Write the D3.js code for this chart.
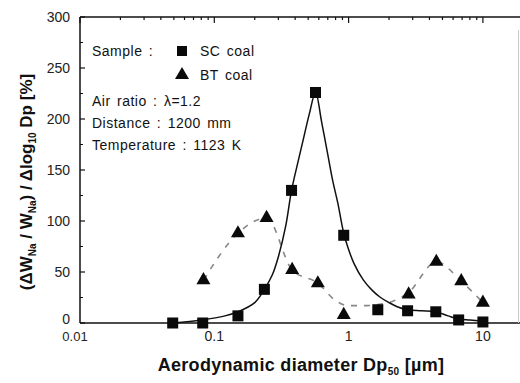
<!DOCTYPE html>
<html>
<head>
<meta charset="utf-8">
<script src="https://cdn.jsdelivr.net/npm/d3@7"></script>
<style>
  body { margin: 0; background: #fff; }
  svg { display: block; font-family: "Liberation Sans", Arial, sans-serif; }
</style>
</head>
<body>
<div id="chart"></div>
<script>
// measured points (Dp50 in um, value in %)
const scDp = [0.049, 0.082, 0.15, 0.236, 0.376, 0.567, 0.92, 1.65, 2.75, 4.46, 6.6, 10];
const scVal = [0, 0, 7, 33, 130, 226, 86, 13, 12, 11, 3, 1];
const btDp = [0.083, 0.15, 0.245, 0.38, 0.59, 0.92, 2.8, 4.5, 6.9, 10];
const btVal = [42, 88, 103, 52, 39, 8, 28, 60, 41, 20];

// fitted curves
const scFitDp = [0.049, 0.08, 0.12, 0.15, 0.2, 0.236, 0.27, 0.3, 0.34, 0.376, 0.42, 0.46, 0.51, 0.567,
  0.63, 0.7, 0.76, 0.83, 0.92, 1.0, 1.1, 1.29, 1.5, 1.73, 2.0, 2.3, 2.75, 3.5, 4.46, 5.5, 6.6, 8, 10];
const scFitVal = [0, 3, 7, 11, 20, 33, 47, 65, 95, 130, 158, 180, 205, 226,
  197, 165, 140, 118, 88, 72, 58, 42, 32, 25, 20, 16, 13, 12, 11, 7, 4, 3, 2];
const btFitDp = [0.083, 0.15, 0.245, 0.38, 0.59, 0.8, 1.0, 1.3, 1.65, 2.2, 2.8, 4.5, 6.9, 10];
const btFitVal = [42, 88, 103, 52, 39, 22, 17, 17, 18, 22, 30, 60, 41, 20];

const yTicks = [0, 50, 100, 150, 200, 250, 300];
const xTickLabels = [[0.1, '0.1'], [1, '1'], [10, '10']];

const width = 520, height = 383;
const mLeft = 80, mTop = 17, mBottom = 323;

const svg = d3.select('#chart').append('svg')
  .attr('width', width)
  .attr('height', height);

const x = d3.scaleLog().domain([0.01, 20]).range([mLeft, mLeft + 134.3 * Math.log10(2000)]);
const y = d3.scaleLinear().domain([0, 300]).range([mBottom, mTop]);

// frame
svg.append('line').attr('x1', mLeft).attr('x2', width).attr('y1', mTop).attr('y2', mTop)
  .attr('stroke', '#111').attr('stroke-width', 1.5);
svg.append('line').attr('x1', mLeft).attr('x2', mLeft).attr('y1', mTop).attr('y2', mBottom)
  .attr('stroke', '#111').attr('stroke-width', 1.5);
svg.append('line').attr('x1', mLeft).attr('x2', width).attr('y1', mBottom).attr('y2', mBottom)
  .attr('stroke', '#111').attr('stroke-width', 1.5);
svg.append('line').attr('x1', 518.5).attr('x2', 518.5).attr('y1', 30).attr('y2', mBottom)
  .attr('stroke', '#ccc').attr('stroke-width', 1);

// top ticks (log, inward)
const logTicks = x.ticks().filter(v => v < 20);
svg.append('g').selectAll('line').data(logTicks).enter().append('line')
  .attr('x1', d => x(d)).attr('x2', d => x(d))
  .attr('y1', mTop)
  .attr('y2', d => Math.abs(Math.log10(d) - Math.round(Math.log10(d))) < 1e-6 ? mTop + 6 : mTop + 3)
  .attr('stroke', '#111').attr('stroke-width', 1.2);

// left ticks
const yMinor = d3.range(25, 300, 50);
svg.append('g').selectAll('line').data(yTicks).enter().append('line')
  .attr('x1', mLeft).attr('x2', mLeft + 5)
  .attr('y1', d => y(d)).attr('y2', d => y(d))
  .attr('stroke', '#111').attr('stroke-width', 1.2);
svg.append('g').selectAll('line').data(yMinor).enter().append('line')
  .attr('x1', mLeft).attr('x2', mLeft + 3)
  .attr('y1', d => y(d)).attr('y2', d => y(d))
  .attr('stroke', '#111').attr('stroke-width', 1);

svg.append('g').selectAll('text').data(yTicks).enter().append('text')
  .attr('x', mLeft - 10)
  .attr('y', d => d === 0 ? y(d) + 1 : y(d) + 5)
  .attr('text-anchor', 'end')
  .attr('font-size', 14)
  .attr('fill', '#222')
  .text(d => d);

// x tick labels
svg.append('text').attr('x', x(0.01) - 5).attr('y', mBottom + 18)
  .attr('text-anchor', 'middle').attr('font-size', 13).attr('fill', '#222').text('0.01');
svg.append('g').selectAll('text').data(xTickLabels).enter().append('text')
  .attr('x', d => x(d[0]))
  .attr('y', mBottom + 18)
  .attr('text-anchor', 'middle')
  .attr('font-size', 14)
  .attr('fill', '#222')
  .text(d => d[1]);

// axis titles
const xt = svg.append('text')
  .attr('x', 301).attr('y', 371)
  .attr('text-anchor', 'middle')
  .attr('font-size', 18)
  .attr('font-weight', 'bold')
  .attr('letter-spacing', 0.3)
  .attr('fill', '#111');
xt.append('tspan').text('Aerodynamic diameter Dp');
xt.append('tspan').attr('font-size', 10).attr('dy', 4).text('50');
xt.append('tspan').attr('dy', -4).text(' [\u00b5m]');

const yt = svg.append('text')
  .attr('transform', 'translate(32,182) rotate(-90)')
  .attr('text-anchor', 'middle')
  .attr('font-size', 17)
  .attr('font-weight', 'bold')
  .attr('fill', '#111');
yt.append('tspan').text('(\u0394W');
yt.append('tspan').attr('font-size', 10).attr('dy', 4).text('Na');
yt.append('tspan').attr('dy', -4).text(' / W');
yt.append('tspan').attr('font-size', 10).attr('dy', 4).text('Na');
yt.append('tspan').attr('dy', -4).text(') / \u0394log');
yt.append('tspan').attr('font-size', 10).attr('dy', 4).text('10');
yt.append('tspan').attr('dy', -4).text(' Dp [%]');

// curves
const line = d3.line()
  .x(d => x(d[0]))
  .y(d => y(d[1]))
  .curve(d3.curveMonotoneX);

svg.append('path')
  .datum(btFitDp.map((d, i) => [d, btFitVal[i]]))
  .attr('d', line)
  .attr('fill', 'none')
  .attr('stroke', '#888')
  .attr('stroke-width', 1.6)
  .attr('stroke-dasharray', '6,7');

svg.append('path')
  .datum(scFitDp.map((d, i) => [d, scFitVal[i]]))
  .attr('d', d3.line().x(d => x(d[0])).y(d => y(d[1])).curve(d3.curveCatmullRom.alpha(0.5)))
  .attr('fill', 'none')
  .attr('stroke', '#111')
  .attr('stroke-width', 1.5);

// markers
const sq = 11;
svg.append('g').selectAll('rect').data(scDp.map((d, i) => [d, scVal[i]])).enter().append('rect')
  .attr('x', d => x(d[0]) - sq / 2)
  .attr('y', d => y(d[1]) - sq / 2)
  .attr('width', sq).attr('height', sq)
  .attr('fill', '#0a0a0a');

const tri = d3.symbol().type(d3.symbolTriangle).size(85);
svg.append('g').selectAll('path').data(btDp.map((d, i) => [d, btVal[i]])).enter().append('path')
  .attr('d', tri)
  .attr('transform', d => `translate(${x(d[0])},${y(d[1])})`)
  .attr('fill', '#0a0a0a');

// legend / annotations
const note = (tx, ty, s) => svg.append('text')
  .attr('x', tx).attr('y', ty)
  .attr('font-size', 14)
  .attr('letter-spacing', 0.5)
  .attr('word-spacing', 2)
  .attr('fill', '#111')
  .text(s);

note(92, 56, 'Sample :');
svg.append('rect').attr('x', 177).attr('y', 46).attr('width', 10).attr('height', 10).attr('fill', '#0a0a0a');
note(200, 56, 'SC coal');
svg.append('path').attr('d', tri).attr('transform', 'translate(182,75)').attr('fill', '#0a0a0a');
note(200, 80, 'BT coal');
note(92, 106, 'Air ratio : \u03bb=1.2');
note(92, 128, 'Distance : 1200 mm');
note(92, 150, 'Temperature : 1123 K');
</script>
</body>
</html>
